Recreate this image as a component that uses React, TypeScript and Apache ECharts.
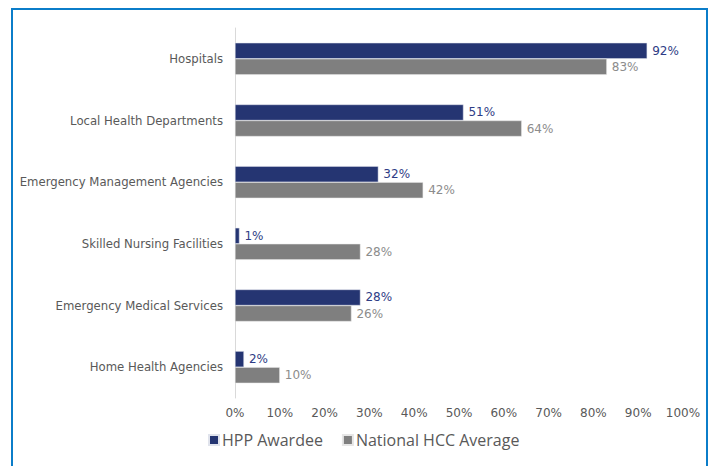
import React, { useEffect, useRef } from "react";
import * as echarts from "echarts";

const categories = [
  "Hospitals",
  "Local Health Departments",
  "Emergency Management Agencies",
  "Skilled Nursing Facilities",
  "Emergency Medical Services",
  "Home Health Agencies",
];
const hppAwardee = [92, 51, 32, 1, 28, 2];
const nationalHcc = [83, 64, 42, 28, 26, 10];
const seriesNames = ["HPP Awardee", "National HCC Average"];

export default function App() {
  const ref = useRef<HTMLDivElement>(null);
  useEffect(() => {
    if (!ref.current) return;
    const chart = echarts.init(ref.current, null, { renderer: "svg" });
    const font = "'DejaVu Sans', Verdana, sans-serif";
    chart.setOption({
      animation: false,
      backgroundColor: "#ffffff",
      graphic: [
        {
          type: "rect",
          shape: { x: 12, y: 9, width: 695, height: 480 },
          style: { fill: "none", stroke: "#0B7DC9", lineWidth: 2 },
          silent: true,
        },
      ],
      grid: { left: 235, right: 27, top: 28, height: 370, containLabel: false },
      legend: {
        data: seriesNames,
        top: 427,
        left: 203,
        itemWidth: 10,
        itemHeight: 10,
        itemGap: 19,
        icon: "rect",
        textStyle: {
          color: "#595959",
          fontSize: 16,
          fontFamily: "'Open Sans', sans-serif",
          padding: [0, 0, 0, -2],
        },
      },
      xAxis: {
        type: "value",
        min: 0,
        max: 100,
        interval: 10,
        axisLine: { show: false },
        axisTick: { show: false },
        splitLine: { show: false },
        axisLabel: {
          formatter: "{value}%",
          color: "#595959",
          fontSize: 12,
          fontFamily: font,
          margin: 9,
        },
      },
      yAxis: {
        type: "category",
        data: categories,
        inverse: true,
        axisLine: { show: true, lineStyle: { color: "#D9D9D9", width: 1 } },
        axisTick: { show: false },
        axisLabel: { color: "#595959", fontSize: 11.7, fontFamily: font, margin: 12 },
      },
      series: [
        {
          name: seriesNames[0],
          type: "bar",
          data: hppAwardee,
          barGap: "0%",
          barCategoryGap: "48%",
          itemStyle: { color: "#253572", borderColor: "#E0E3EC", borderWidth: 0.5 },
          label: {
            show: true,
            position: "right",
            formatter: "{c}%",
            color: "#2E3C85",
            fontSize: 12,
            fontFamily: font,
            distance: 5,
          },
        },
        {
          name: seriesNames[1],
          type: "bar",
          data: nationalHcc,
          barGap: "0%",
          barCategoryGap: "48%",
          itemStyle: { color: "#7F7F7F", borderColor: "#E6E6E6", borderWidth: 0.5 },
          label: {
            show: true,
            position: "right",
            formatter: "{c}%",
            color: "#8C8C8C",
            fontSize: 12,
            fontFamily: font,
            distance: 5,
          },
        },
      ],
    });
    return () => chart.dispose();
  }, []);
  return (
    <div
      ref={ref}
      style={{ position: "fixed", left: 0, top: 0, width: 710, height: 466 }}
    />
  );
}
